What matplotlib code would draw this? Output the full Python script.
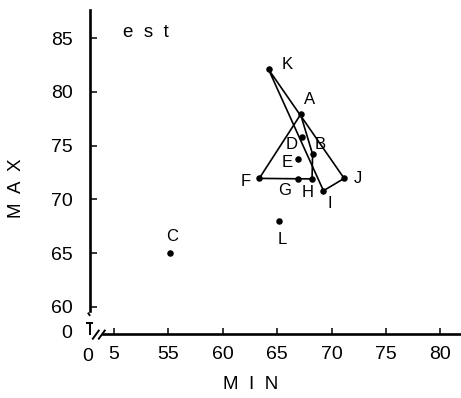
import matplotlib
matplotlib.use("Agg")
import matplotlib.pyplot as plt

plt.rcParams["font.family"] = ["Liberation Sans", "DejaVu Sans"]

# Stations: minimum vs maximum values
labels = ["A", "B", "C", "D", "E", "F", "G", "H", "I", "J", "K", "L"]
min_vals = [67.15, 68.25, 55.15, 67.25, 66.95, 63.35, 66.9, 68.2, 69.25, 71.15, 64.2, 65.15]
max_vals = [77.9, 74.2, 65.0, 75.8, 73.8, 71.95, 71.9, 71.9, 70.8, 71.95, 82.1, 68.0]

# Outlines joining stations
outline_1 = ["K", "J", "I", "K"]
outline_2 = ["A", "B", "H", "F", "A"]

x_ticks = [50, 55, 60, 65, 70, 75, 80]
x_tick_labels = ["5", "55", "60", "65", "70", "75", "80"]
y_ticks = [60, 65, 70, 75, 80, 85]
y_tick_labels = ["60", "65", "70", "75", "80", "85"]

# label offsets in pixels (dx, dy)
label_offsets = {
    "K": (19, 5), "A": (9, 15), "D": (-10, -7), "B": (8, 10),
    "E": (-11, -4), "F": (-14, -3), "G": (-13, -12), "H": (-4, -14),
    "I": (6, -13), "J": (14, 0), "L": (3, -19), "C": (2, 17),
}

fig = plt.figure(figsize=(4.61, 3.98), dpi=100)
ax = fig.add_axes([0, 0, 1, 1])
ax.set_xlim(39.52, 81.89)
ax.set_ylim(51.5, 88.56)
ax.patch.set_alpha(0)

x0, y0 = 47.75, 57.46  # origin of the broken axes
ax.spines["top"].set_visible(False)
ax.spines["right"].set_visible(False)
ax.spines["left"].set_position(("data", x0))
ax.spines["bottom"].set_position(("data", y0))
ax.spines["left"].set_bounds(59.6, 87.6)
ax.spines["bottom"].set_bounds(48.95, 81.9)
for s in ("left", "bottom"):
    ax.spines[s].set_linewidth(1.9)

ax.set_xticks(x_ticks)
ax.set_xticklabels(x_tick_labels)
ax.set_yticks(y_ticks)
ax.set_yticklabels(y_tick_labels)
ax.tick_params(axis="x", direction="in", length=4, width=1.1, pad=9, labelsize=14)
ax.tick_params(axis="y", direction="in", length=5, width=1.1, pad=12, labelsize=14)
ax.get_xticklabels()[0].set_x(49.5)

# axis break marks
kw = dict(color="black", lw=1.4, clip_on=False, solid_capstyle="butt")
ax.plot([x0 - 0.3, x0 + 0.35], [58.45, 58.45], **kw)
ax.plot([x0, x0], [58.45, 57.4], **kw)
ax.plot([x0 - 0.15, x0 + 0.05], [59.45, 59.15], **kw)
ax.plot([48.0, 48.65], [56.95, 57.85], **kw)
ax.plot([48.55, 49.2], [56.95, 57.85], **kw)

# origin labels
ax.text(46.15, y0, "0", fontsize=14, ha="right", va="center")
ax.text(x0 - 0.15, 56.2, "0", fontsize=14, ha="center", va="top")

# outlines
pos = {lab: (mx, my) for lab, mx, my in zip(labels, min_vals, max_vals)}
for outline in (outline_1, outline_2):
    xs = [pos[p][0] for p in outline]
    ys = [pos[p][1] for p in outline]
    ax.plot(xs, ys, color="black", lw=1.2, zorder=2)

ax.scatter(min_vals, max_vals, s=22, color="black", zorder=3, linewidths=0)

for lab, mx, my in zip(labels, min_vals, max_vals):
    dx, dy = label_offsets[lab]
    ax.annotate(lab, (mx, my), xytext=(dx, dy), textcoords="offset pixels",
                ha="center", va="center", fontsize=12)

ax.text(52.9, 85.5, "e  s  t", fontsize=13.5, ha="center", va="center")
ax.text(62.6, 52.75, "M  I  N", fontsize=13.5, ha="center", va="center")
ax.text(41.0, 71.0, "M  A  X", fontsize=13.5, ha="center", va="center", rotation=90)

fig.savefig("out.png", dpi=100)
